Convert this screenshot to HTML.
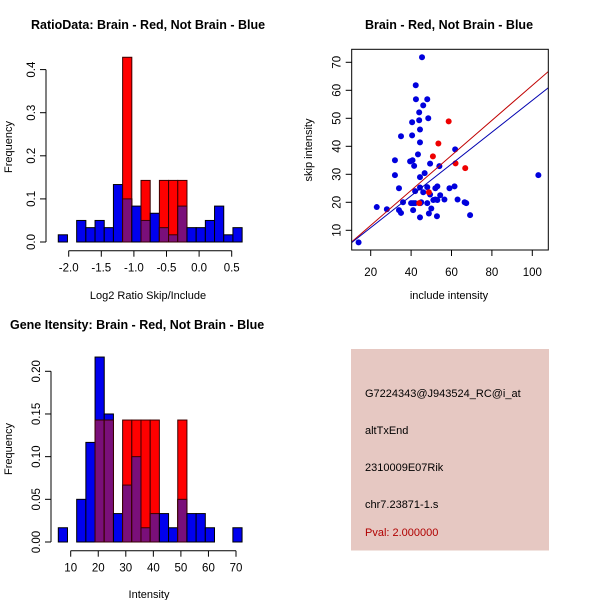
<!DOCTYPE html>
<html><head><meta charset="utf-8"><style>
body{margin:0;background:#fff}
svg{display:block;font-family:"Liberation Sans",Arial,sans-serif}
</style></head><body>
<svg id="s" width="600" height="600" viewBox="0 0 600 600">
<rect x="0" y="0" width="600" height="600" fill="#fff"/>
<text x="31" y="29" font-size="12.5" font-weight="bold">RatioData: Brain - Red, Not Brain - Blue</text>
<text x="449" y="29" font-size="12.5" font-weight="bold" text-anchor="middle">Brain - Red, Not Brain - Blue</text>
<text x="10" y="329" font-size="12.5" font-weight="bold">Gene Itensity: Brain - Red, Not Brain - Blue</text>
<text x="148" y="299" font-size="11" text-anchor="middle">Log2 Ratio Skip/Include</text>
<text transform="translate(12,147) rotate(-90)" font-size="11" text-anchor="middle">Frequency</text>
<text x="449" y="299" font-size="11" text-anchor="middle">include intensity</text>
<text transform="translate(312,150) rotate(-90)" font-size="11" text-anchor="middle">skip intensity</text>
<text x="149" y="598" font-size="11" text-anchor="middle">Intensity</text>
<text transform="translate(12,449) rotate(-90)" font-size="11" text-anchor="middle">Frequency</text>
<g>
<rect x="351" y="349" width="198" height="201.5" fill="#e6c8c2"/>
<text x="365" y="397" font-size="11">G7224343@J943524_RC@i_at</text>
<text x="365" y="434" font-size="11">altTxEnd</text>
<text x="365" y="471" font-size="11">2310009E07Rik</text>
<text x="365" y="508" font-size="11">chr7.23871-1.s</text>
<text x="365" y="536" font-size="11" fill="#b00000">Pval: 2.000000</text>
</g>
</svg>
<script>
// Ratio histogram data
const ratioBinStart = -2.16;
const ratioBinWidth = 0.141;
const ratioBlue = [0.0167,0,0.05,0.0333,0.05,0.0333,0.1333,0.1,0.0833,0.05,0.0667,0.0333,0.0167,0.0833,0.0333,0.0333,0.05,0.0833,0.0167,0.0333];
const ratioRed  = [0,0,0,0,0,0,0,0.4286,0,0.1429,0,0.1429,0.1429,0.1429,0,0,0,0,0,0];
const ratioXTicks = [-2.0,-1.5,-1.0,-0.5,0.0,0.5];
const ratioXLabels = ["-2.0","-1.5","-1.0","-0.5","0.0","0.5"];
const ratioYTicks = [0,0.1,0.2,0.3,0.4];
const ratioYLabels = ["0.0","0.1","0.2","0.3","0.4"];
// Intensity histogram data
const intBinStart = 5.5;
const intBinWidth = 3.335;
const intBlue = [0.0167,0,0.05,0.1167,0.2167,0.15,0.0333,0.0667,0.1,0.0167,0.0333,0.0333,0.0167,0.05,0.0333,0.0333,0.0167,0,0,0.0167];
const intRed  = [0,0,0,0,0.1429,0.1429,0,0.1429,0.1429,0.1429,0.1429,0,0,0.1429,0,0,0,0,0,0];
const intXTicks = [10,20,30,40,50,60,70];
const intXLabels = ["10","20","30","40","50","60","70"];
const intYTicks = [0,0.05,0.1,0.15,0.2];
const intYLabels = ["0.00","0.05","0.10","0.15","0.20"];
// Scatter data
const blueX = [14,23,28,32,32,34,34,35,35,36,39.5,40,40.5,40.5,40.7,41,41,41.5,42,42,42.3,42.4,43.4,44,44,44.4,44.4,44.4,44.4,44.4,44.6,45,45.4,46,46,46.7,48,48,48,48.5,48.8,49.4,49.4,50,51,52,52,53,53,52.8,54,54.4,56.5,59,61.8,61.5,63,66.5,67.3,69.2,103];
const blueY = [5.7,18.3,17.5,35,29.7,25,17.2,16.2,43.6,20,34.6,19.7,48.6,43.9,35,17.2,19.7,33,24,19.7,61.8,56.8,37.1,52.1,49.3,46,41.4,29,25.3,14.6,19.7,20,71.8,54.6,23.6,30.4,56.8,25.4,19.7,50,16,22.8,33.8,17.8,20.8,25,21,25.7,20.8,15,32.9,22.5,21,25,38.9,25.7,21,20,19.7,15.4,29.7];
const redX = [44,48.8,50.8,53.5,58.6,62,66.8];
const redY = [19.7,23.6,36.4,41,48.9,33.9,32.2];
const redFit = [0.625,-0.75];
const blueFit = [0.568,-0.4];
const scXTicks = [20,40,60,80,100];
const scYTicks = [10,20,30,40,50,60,70];

const NS="http://www.w3.org/2000/svg";
const svg=document.getElementById('s');
function mk(tag,attrs,parent){const e=document.createElementNS(NS,tag);for(const k in attrs)e.setAttribute(k,attrs[k]);(parent||svg).appendChild(e);return e;}

function hist(o){
  const g=mk('g',{});
  
  
  const xs=v=>o.x0+(v-o.xv0)*o.xs, ys=v=>o.base-v*o.ys;
  for(let i=0;i<o.blue.length;i++){
    const a=o.binStart+i*o.binW, b=a+o.binW;
    const x=xs(a), w=xs(b)-xs(a);
    const bl=o.blue[i], rd=o.red[i];
    if(bl>0){const r=mk('rect',{x:x,y:ys(bl),width:w,height:ys(0)-ys(bl),fill:'#0000ee',stroke:'#000',"stroke-width":1},g);
      
      }
    if(rd>0){const r=mk('rect',{x:x,y:ys(rd),width:w,height:ys(0)-ys(rd),fill:'#ff0000',stroke:'#3a0000',"stroke-width":1},g);
      
      }
    const m=Math.min(bl,rd);
    if(m>0){const r=mk('rect',{x:x,y:ys(m),width:w,height:ys(0)-ys(m),fill:'#7a0f7a',stroke:'#3a0000',"stroke-width":1},g);
      
      }
  }
  const ax=mk('g',{stroke:'#000','stroke-width':1},g);
  
  
  const ay=o.axisY;
  mk('line',{x1:xs(o.xt[0]),x2:xs(o.xt[o.xt.length-1]),y1:ay,y2:ay},ax);
  o.xt.forEach((t,i)=>{mk('line',{x1:xs(t),x2:xs(t),y1:ay,y2:ay+6},ax);
    const tx=mk('text',{x:xs(t),y:ay+21,'font-size':11.5,'text-anchor':'middle',stroke:'none'},ax);tx.textContent=o.xl[i];
    
    });
  const yx=mk('g',{stroke:'#000','stroke-width':1},g);
  
  
  mk('line',{x1:o.axisX,x2:o.axisX,y1:ys(o.yt[0]),y2:ys(o.yt[o.yt.length-1])},yx);
  o.yt.forEach((t,i)=>{mk('line',{x1:o.axisX,x2:o.axisX-6,y1:ys(t),y2:ys(t)},yx);
    const tx=mk('text',{transform:`translate(${o.axisX-11},${ys(t)}) rotate(-90)`,'font-size':11.5,'text-anchor':'middle',stroke:'none'},yx);tx.textContent=o.yl[i];
    
    });
}
hist({name:'ratio-histogram',blue:ratioBlue,red:ratioRed,binStart:ratioBinStart,binW:ratioBinWidth,
  x0:68.7,xv0:-2,xs:65.2,base:242,ys:431,xt:ratioXTicks,xl:ratioXLabels,yt:ratioYTicks,yl:ratioYLabels,axisY:250.7,axisX:46});
hist({name:'intensity-histogram',blue:intBlue,red:intRed,binStart:intBinStart,binW:intBinWidth,
  x0:70.7,xv0:10,xs:2.755,base:542,ys:853.5,xt:intXTicks,xl:intXLabels,yt:intYTicks,yl:intYLabels,axisY:550.7,axisX:51});

// Scatter
const sx=v=>370.7+(v-20)*2.02, sy=v=>230.3-(v-10)*2.8;
const sg=mk('g',{});


mk('clipPath',{id:'cp'},sg);
mk('rect',{x:351.7,y:49.3,width:196.6,height:200.7},document.getElementById('cp'));
const pts=mk('g',{},sg);


blueX.forEach((x,i)=>{const c=mk('circle',{cx:sx(x),cy:sy(blueY[i]),r:3,fill:'#0000dd'},pts);
  
  });
redX.forEach((x,i)=>{const c=mk('circle',{cx:sx(x),cy:sy(redY[i]),r:3,fill:'#ee0000'},pts);
  
  });
[[redFit,'#c00000','red-fit-line'],[blueFit,'#0000b0','blue-fit-line']].forEach(([f,c,n])=>{
  const l=mk('line',{x1:sx(0),y1:sy(f[1]),x2:sx(120),y2:sy(f[0]*120+f[1]),stroke:c,'stroke-width':1,'clip-path':'url(#cp)'},sg);
  
  });
const box=mk('rect',{x:351.7,y:49.3,width:196.6,height:200.7,fill:'none',stroke:'#000'},sg);


scXTicks.forEach(t=>{mk('line',{x1:sx(t),x2:sx(t),y1:250,y2:256,stroke:'#000'},sg);
  const tx=mk('text',{x:sx(t),y:276,'font-size':11.5,'text-anchor':'middle'},sg);tx.textContent=t;
  
  });
scYTicks.forEach(t=>{mk('line',{x1:351.7,x2:345.7,y1:sy(t),y2:sy(t),stroke:'#000'},sg);
  const tx=mk('text',{transform:`translate(340.7,${sy(t)}) rotate(-90)`,'font-size':11.5,'text-anchor':'middle'},sg);tx.textContent=t;
  
  });
</script>
</body></html>
